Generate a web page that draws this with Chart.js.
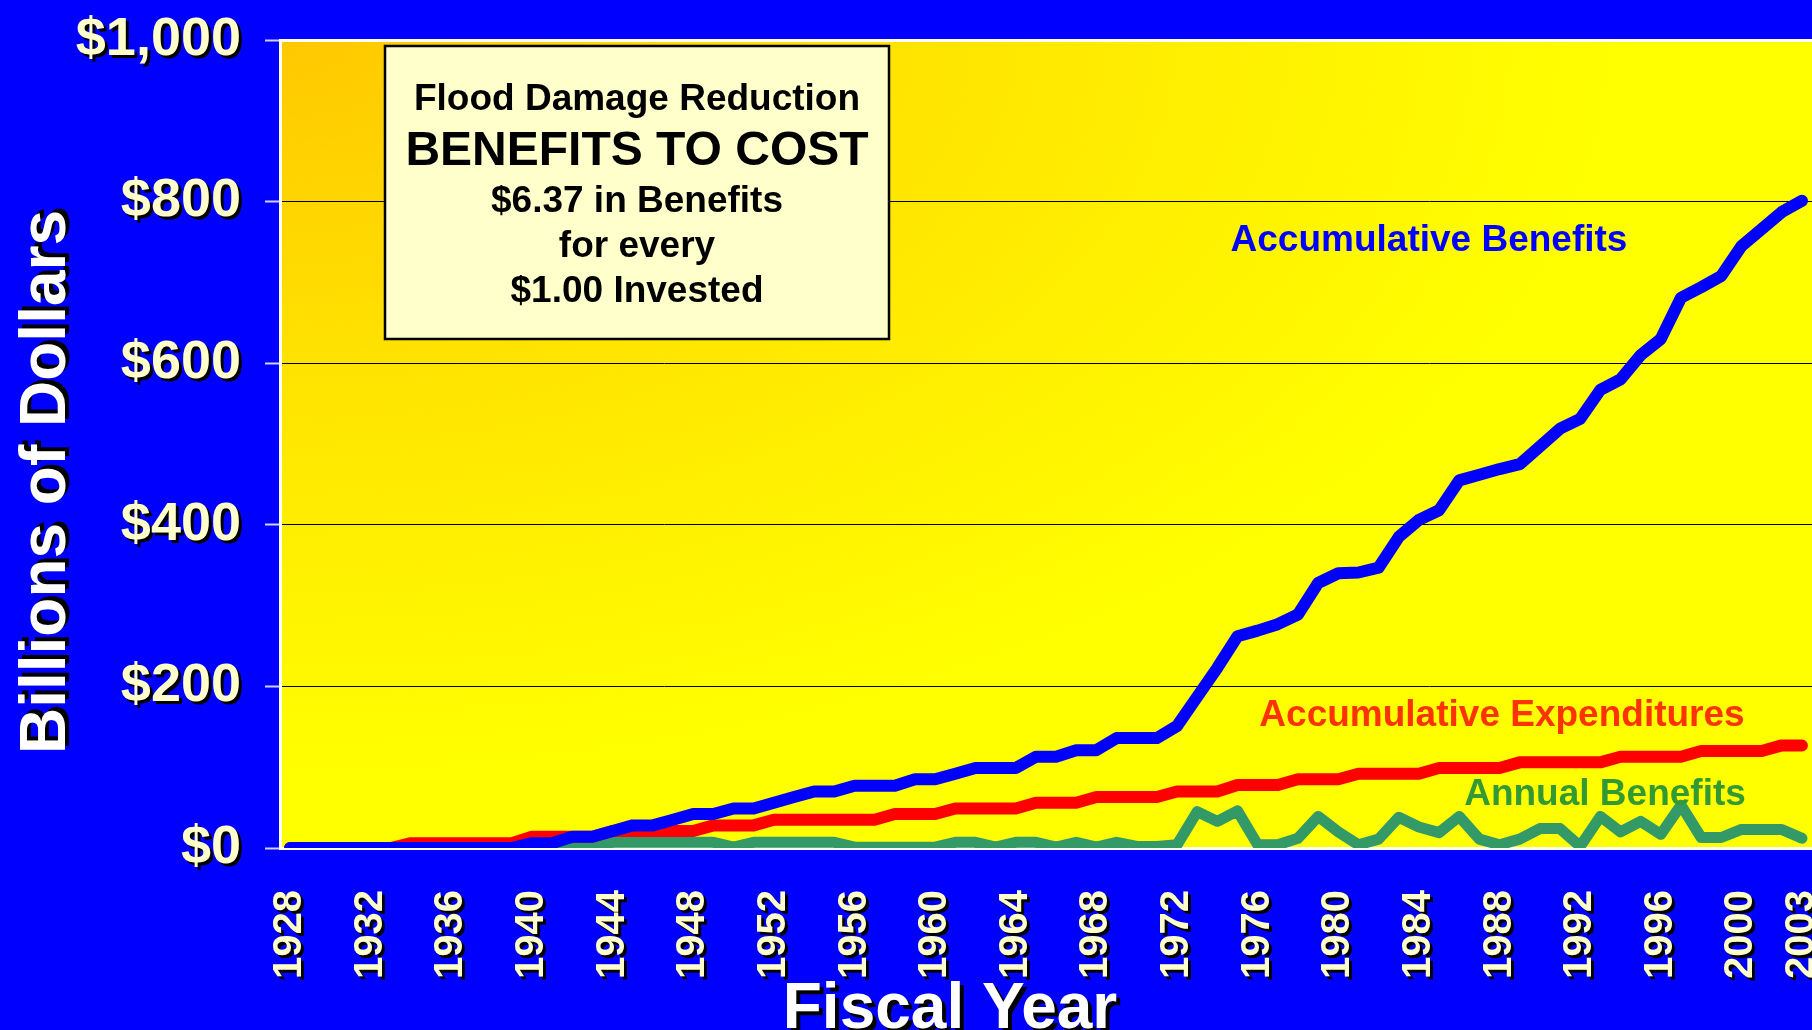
<!DOCTYPE html>
<html lang="en">
<head>
<meta charset="UTF-8">
<title>Flood Damage Reduction - Benefits to Cost</title>
<script src="https://cdn.jsdelivr.net/npm/chart.js"></script>
<style>
  html, body { margin: 0; padding: 0; background: #0000ff; overflow: hidden; }
  #wrap { width: 1812px; height: 1030px; }
  canvas { display: block; }
</style>
</head>
<body>
<div id="wrap"><canvas id="floodChart"></canvas></div>
<script>
// fiscal years on the category axis
const years = [
  1928, 1929, 1930, 1931, 1932, 1933, 1934, 1935, 1936, 1937,
  1938, 1939, 1940, 1941, 1942, 1943, 1944, 1945, 1946, 1947,
  1948, 1949, 1950, 1951, 1952, 1953, 1954, 1955, 1956, 1957,
  1958, 1959, 1960, 1961, 1962, 1963, 1964, 1965, 1966, 1967,
  1968, 1969, 1970, 1971, 1972, 1973, 1974, 1975, 1976, 1977,
  1978, 1979, 1980, 1981, 1982, 1983, 1984, 1985, 1986, 1987,
  1988, 1989, 1990, 1991, 1992, 1993, 1994, 1995, 1996, 1997,
  1998, 1999, 2000, 2001, 2002, 2003
];

// which years get a label under the axis
const tickYears = ['1928', '1932', '1936', '1940', '1944', '1948', '1952', '1956', '1960',
  '1964', '1968', '1972', '1976', '1980', '1984', '1988', '1992', '1996', '2000', '2003'];

// billions of dollars
const accumBenefits = [
  0, 0, 0, 0, 0, 0, 0, 0, 0, 0,
  0, 0, 6, 6, 14, 14, 21, 28, 28, 35,
  42, 42, 49, 49, 56, 63, 70, 70, 77, 77,
  77, 85, 85, 92, 99, 99, 99, 113, 113, 121,
  121, 136, 136, 136, 151, 187, 223, 262, 269, 277,
  289, 328, 340, 341, 347, 385, 406, 418, 455, 462,
  469, 475, 497, 519, 531, 567, 580, 610, 630, 681,
  694, 708, 745, 766, 787, 801
];

const accumExpenditures = [
  0, 0, 0, 0, 0, 0, 6, 6, 6, 6,
  6, 6, 14, 14, 14, 14, 21, 21, 21, 21,
  21, 28, 28, 28, 35, 35, 35, 35, 35, 35,
  42, 42, 42, 49, 49, 49, 49, 56, 56, 56,
  63, 63, 63, 63, 70, 70, 70, 78, 78, 78,
  85, 85, 85, 92, 92, 92, 92, 99, 99, 99,
  99, 106, 106, 106, 106, 106, 113, 113, 113, 113,
  120, 120, 120, 120, 127, 127
];

const annualBenefits = [
  0, 0, 0, 0, 0, 0, 0, 0, 0, 0,
  0, 0, 0, 0, 1, 1, 7, 7, 7, 7,
  7, 7, 1, 7, 7, 7, 7, 7, 1, 1,
  1, 1, 1, 7, 7, 1, 7, 7, 1, 7,
  1, 7, 2, 2, 4, 45, 33, 46, 4, 4,
  12, 39, 20, 4, 11, 38, 26, 19, 39, 11,
  4, 11, 24, 24, 2, 39, 20, 33, 17, 53,
  13, 13, 23, 23, 23, 12
];

const FONT = '"Liberation Sans", Arial, sans-serif';

// yellow-orange fill behind the plot
const plotBackground = {
  id: 'plotBackground',
  beforeDraw(chart) {
    const c = chart.ctx;
    const a = chart.chartArea;
    c.save();
    c.translate(a.left, a.top);
    c.scale(1, 0.55);
    const g = c.createRadialGradient(0, 0, 0, 0, 0, 1350);
    g.addColorStop(0, '#ffc800');
    g.addColorStop(0.5, '#ffe600');
    g.addColorStop(1, '#ffff00');
    c.fillStyle = g;
    c.fillRect(0, 0, a.right - a.left, (a.bottom - a.top) / 0.55);
    c.restore();
  }
};

// drop shadow on tick labels (they are drawn after the datasets, z: 1)
const labelShadow = {
  id: 'labelShadow',
  afterDatasetsDraw(chart) {
    const c = chart.ctx;
    c.save();
    c.shadowColor = '#000000';
    c.shadowOffsetX = 3;
    c.shadowOffsetY = 3;
    c.shadowBlur = 0;
  },
  afterDraw(chart) {
    chart.ctx.restore();
  }
};

function shadowText(c, text, x, y, off) {
  c.save();
  c.fillStyle = '#000000';
  c.fillText(text, x + off, y + off);
  c.restore();
  c.fillText(text, x, y);
}

// text box, series names and axis titles
const notes = {
  id: 'notes',
  afterDraw(chart) {
    const c = chart.ctx;
    c.save();

    // box
    c.fillStyle = '#ffffcc';
    c.fillRect(385, 46, 504, 293);
    c.lineWidth = 2.5;
    c.strokeStyle = '#000000';
    c.strokeRect(385, 46, 504, 293);

    c.fillStyle = '#000000';
    c.textAlign = 'center';
    c.textBaseline = 'alphabetic';
    c.font = 'bold 37px ' + FONT;
    c.fillText('Flood Damage Reduction', 637, 110);
    c.font = 'bold 48px ' + FONT;
    c.fillText('BENEFITS TO COST', 637, 165);
    c.font = 'bold 37px ' + FONT;
    c.fillText('$6.37 in Benefits', 637, 212);
    c.fillText('for every', 637, 257);
    c.fillText('$1.00 Invested', 637, 302);

    // series names
    c.font = 'bold 37px ' + FONT;
    c.fillStyle = '#0000ff';
    c.fillText('Accumulative Benefits', 1429, 251);
    c.fillStyle = '#ff3300';
    c.fillText('Accumulative Expenditures', 1502, 726);
    c.fillStyle = '#339933';
    c.fillText('Annual Benefits', 1605, 805);

    // axis titles
    c.font = 'bold 64px ' + FONT;
    c.fillStyle = '#ffffff';
    shadowText(c, 'Fiscal Year', 950, 1028, 4);
    c.save();
    c.translate(65, 482);
    c.rotate(-Math.PI / 2);
    shadowText(c, 'Billions of Dollars', 0, 0, 4);
    c.restore();

    c.restore();
  }
};

const ctx = document.getElementById('floodChart').getContext('2d');

new Chart(ctx, {
  type: 'line',
  data: {
    labels: years,
    datasets: [
      {
        label: 'Accumulative Benefits',
        data: accumBenefits,
        borderColor: '#0000ff',
        borderWidth: 12,
        clip: { left: 12, top: 0, right: 12, bottom: 0 }
      },
      {
        label: 'Accumulative Expenditures',
        data: accumExpenditures,
        borderColor: '#ff0000',
        borderWidth: 12,
        clip: { left: 12, top: 0, right: 12, bottom: 0 }
      },
      {
        label: 'Annual Benefits',
        data: annualBenefits,
        borderColor: '#339966',
        borderWidth: 11,
        clip: { left: 12, top: 0, right: 12, bottom: 0 }
      }
    ]
  },
  options: {
    responsive: true,
    maintainAspectRatio: false,
    animation: false,
    devicePixelRatio: 1,
    layout: { padding: { top: 40, right: 0, bottom: 0, left: 0 } },
    elements: {
      point: { radius: 0, hoverRadius: 0 },
      line: { tension: 0, borderCapStyle: 'round', borderJoinStyle: 'round', fill: false }
    },
    plugins: {
      legend: { display: false },
      tooltip: { enabled: false }
    },
    scales: {
      x: {
        type: 'category',
        offset: true,
        grid: { display: false, drawTicks: false },
        border: { display: true, color: '#ffffff', width: 3 },
        ticks: {
          autoSkip: false,
          minRotation: 90,
          maxRotation: 90,
          padding: 42,
          color: '#ffffcc',
          z: 1,
          font: { family: FONT, size: 40, weight: 'bold' },
          callback: function (value, index) {
            const y = String(years[index]);
            return tickYears.includes(y) ? y : '';
          }
        },
        afterFit: function (scale) {
          scale.height = 182;
          scale.paddingLeft = 0;
          scale.paddingRight = 0;
        }
      },
      y: {
        min: 0,
        max: 1000,
        border: { display: true, color: '#ffffff', width: 3 },
        grid: {
          color: c => (c.tick && c.tick.value === 1000) ? '#ffffff' : '#000000',
          lineWidth: c => (c.tick && c.tick.value === 1000) ? 3 : 1,
          tickColor: '#d0d0ff',
          tickLength: 15,
          tickWidth: 2
        },
        ticks: {
          stepSize: 200,
          padding: 24,
          color: '#ffffcc',
          z: 1,
          font: { family: FONT, size: 54, weight: 'bold' },
          callback: v => '$' + v.toLocaleString('en-US')
        },
        afterFit: function (scale) {
          scale.width = 280;
          scale.paddingTop = 0;
          scale.paddingBottom = 0;
        }
      }
    }
  },
  plugins: [plotBackground, labelShadow, notes]
});
</script>
</body>
</html>
